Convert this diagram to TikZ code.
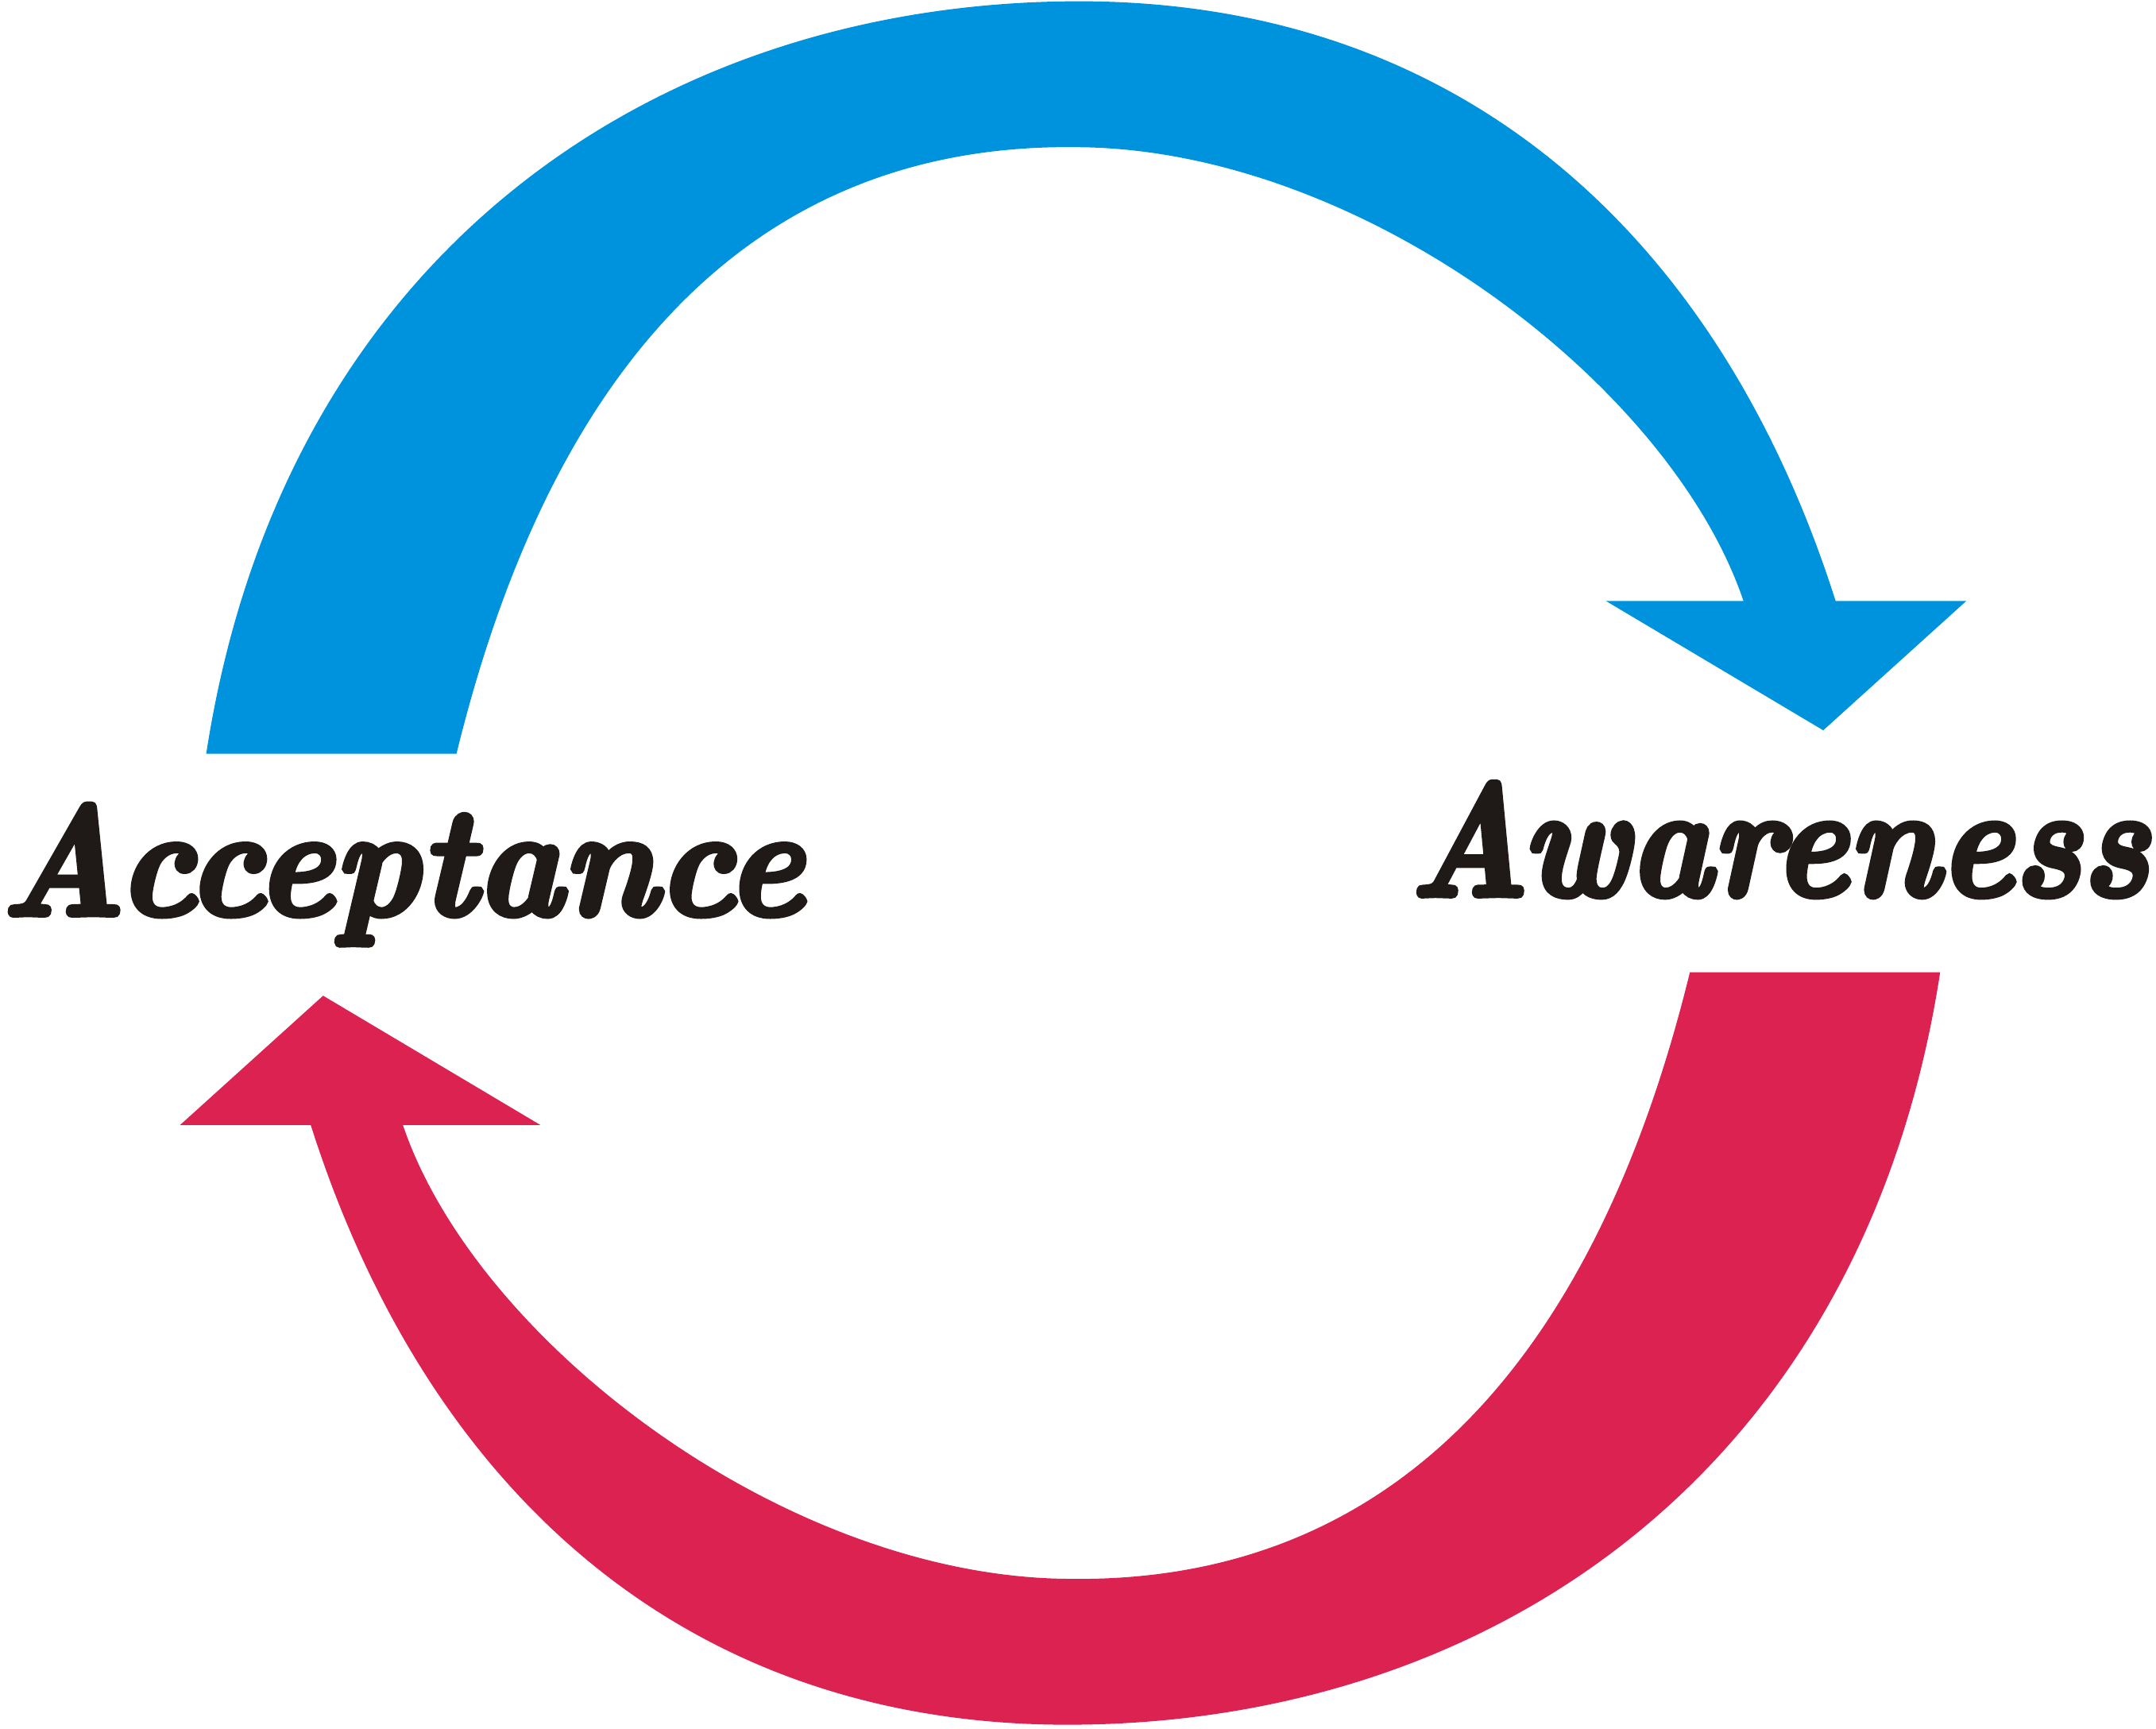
\documentclass[tikz,border=0pt]{standalone}
\usepackage{graphicx}
\usepackage{fontspec}
\usepackage{xcolor}
\usepackage{tikz}
\usetikzlibrary{positioning}
\newfontface\wordfont[FakeBold=4]{lmroman10-bolditalic.otf}
\definecolor{loopblue}{RGB}{0,147,221}
\definecolor{loopred}{RGB}{220,34,80}
\definecolor{inkblack}{RGB}{31,26,23}

\begin{document}
\begin{tikzpicture}[
    x=0.01cm, y=-0.01cm,
    bluearrow/.style={fill=loopblue},
    redarrow/.style={fill=loopred},
    word/.style={inner sep=0pt, outer sep=0pt, text=inkblack, font=\wordfont},
]
\useasboundingbox (0,0) rectangle (1568,1257);

% Upper loop (to Awareness)
\fill[bluearrow] (150,548) .. controls (205,190) and (470,5) .. (775,1)
    .. controls (1060,-3) and (1250,170) .. (1335,437)
    -- (1430,437) -- (1326,531) -- (1168,437) -- (1268,437)
    .. controls (1215,280) and (990,108) .. (783,107)
    .. controls (560,104) and (405,250) .. (332,548) -- cycle;

% Lower loop (to Acceptance)
\fill[redarrow] (1411,707) .. controls (1356,1065) and (1091,1250) .. (786,1254)
    .. controls (501,1258) and (311,1085) .. (226,818)
    -- (131,818) -- (235,724) -- (393,818) -- (293,818)
    .. controls (346,975) and (571,1147) .. (778,1148)
    .. controls (1001,1151) and (1156,1005) .. (1229,707) -- cycle;

% Labels
\node[word, anchor=base west] (acceptance) at (0,665) {\resizebox{5.84cm}{0.80cm}{Acceptance}};
\node[word, anchor=base east] (awareness) at (1563,651) {\resizebox{5.38cm}{0.82cm}{Awareness}};

\end{tikzpicture}
\end{document}
